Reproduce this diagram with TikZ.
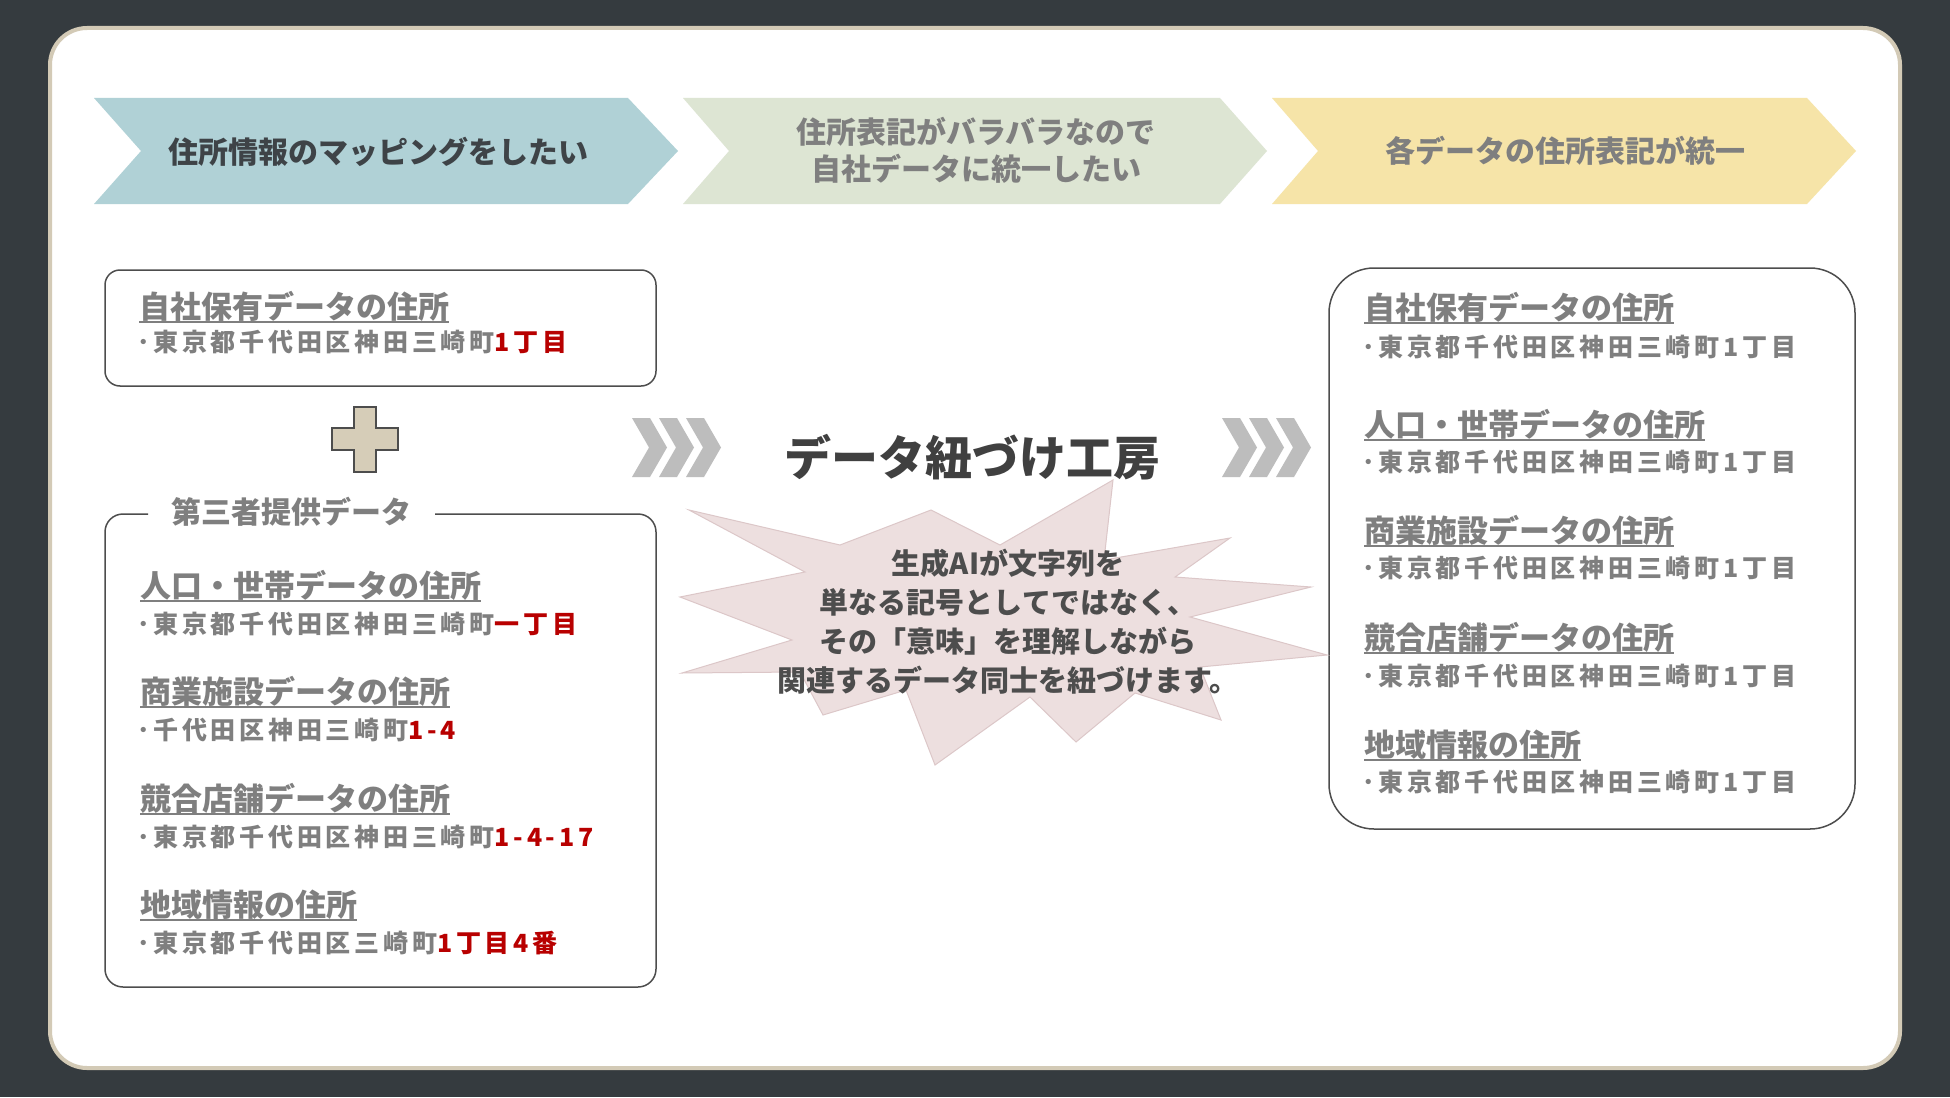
\documentclass[tikz,border=0pt]{standalone}
\usepackage{fontspec}
\setmainfont{Noto Sans CJK JP}
\definecolor{bgdark}{HTML}{353B3F}
\definecolor{cardline}{HTML}{D3CAB6}
\definecolor{cone}{HTML}{B0D1D6}
\definecolor{ctwo}{HTML}{DDE5D3}
\definecolor{cthree}{HTML}{F6E4A8}
\definecolor{txtdark}{HTML}{3E4347}
\definecolor{txtgray}{HTML}{7F7F7F}
\definecolor{addrred}{HTML}{B80000}
\definecolor{boxline}{HTML}{4D4D4D}
\definecolor{plusfill}{HTML}{D6CDB8}
\definecolor{chevgray}{HTML}{BDBDBD}
\definecolor{burstfill}{HTML}{EDDFDF}
\definecolor{burstline}{HTML}{DCC7C8}
\definecolor{titlecol}{HTML}{404040}
\definecolor{bursttext}{HTML}{4D4D4D}
\newcommand{\fsz}[2]{\fontsize{#1pt}{#2pt}\selectfont}
\begin{document}
\begin{tikzpicture}[x=1pt,y=-1pt,
  card/.style={fill=white,draw=cardline,line width=4pt,rounded corners=37pt},
  ctext/.style={font=\bfseries\fsz{30}{37},inner sep=0pt,align=center},
  box/.style={draw=boxline,line width=1.5pt},
  head/.style={font=\bfseries\fsz{31}{31},text=txtgray,inner sep=0pt,anchor=base west},
  addr/.style={font=\bfseries\fsz{25}{25}\addfontfeatures{LetterSpace=15},text=txtgray,inner sep=0pt,anchor=base west},
  ul/.style={draw=txtgray,line width=2pt},
  plusstyle/.style={fill=plusfill,draw=boxline,line width=1.5pt},
  chev/.style={fill=chevgray},
  burst/.style={fill=burstfill,draw=burstline,line width=1pt,line join=miter}]
\useasboundingbox (0,0) rectangle (1950,1097);
\fill[bgdark] (0,0) rectangle (1950,1097);
\draw[card] (50,28) rectangle (1900,1068);

% top chevrons
\fill[cone] (94,98) -- (628,98) -- (678,151) -- (628,204) -- (94,204) -- (141,151) -- cycle;
\fill[ctwo] (683,98) -- (1220,98) -- (1267,151) -- (1220,204) -- (683,204) -- (729,151) -- cycle;
\fill[cthree] (1272,98) -- (1807,98) -- (1856,151) -- (1807,204) -- (1272,204) -- (1318,151) -- cycle;
\node[ctext,text=txtdark] (t1) at (378,152) {住所情報のマッピングをしたい};
\node[ctext,text=txtgray] (t2) at (976,150) {住所表記がバラバラなので\\自社データに統一したい};
\node[ctext,text=txtgray] (t3) at (1565,151) {各データの住所表記が統一};

% left boxes
\draw[box,rounded corners=15pt] (105,270) rectangle (656,386);
\draw[box,rounded corners=18pt] (435,514) -- (656,514) -- (656,987) -- (105,987) -- (105,514) -- (148,514);
\node[font=\bfseries\fsz{30}{30},text=txtgray,inner sep=0pt] (third) at (291,512) {第三者提供データ};

% plus
\draw[plusstyle] (354,407) -- (376,407) -- (376,428) -- (398,428) -- (398,450) -- (376,450) -- (376,472) -- (354,472) -- (354,450) -- (332,450) -- (332,428) -- (354,428) -- cycle;

% right box
\draw[box,rounded corners=45pt] (1329,268) rectangle (1855,829);

% >>> arrows
\foreach \x in {632,659,686,1222,1249,1276}
  \fill[chev] (\x,418) -- (\x+18,418) -- (\x+35,447.5) -- (\x+18,477) -- (\x,477) -- (\x+17,447.5) -- cycle;

% title
\node[font=\bfseries\fsz{47}{47},text=titlecol,inner sep=0pt] (title) at (972,457) {データ紐づけ工房};

% starburst
\draw[burst] (689,510) -- (840,545) -- (931,510) -- (1000,545) -- (1113,480) -- (1104,560)
  -- (1230,538) -- (1175,577) -- (1311,587) -- (1190,617) -- (1327,655) -- (1200,667)
  -- (1221,720) -- (1135,693) -- (1076,742) -- (1030,697) -- (935,765) -- (906,690)
  -- (823,715) -- (800,672) -- (682,673) -- (792,640) -- (680,597) -- (805,572) -- cycle;
\node[font=\bfseries\fsz{29}{39},text=bursttext,align=center,inner sep=0pt] (bursttxt) at (1008,622)
  {生成AIが文字列を\\単なる記号としてではなく、\\その「意味」を理解しながら\\関連するデータ同士を紐づけます。};

% left box contents
\node[head] (a1) at (139,318) {自社保有データの住所};
\node[addr] (a1x) at (137,351) {･東京都千代田区神田三崎町{\color{addrred}1丁目}};
\node[head] (b1) at (140,597) {人口・世帯データの住所};
\node[addr] (b1x) at (137,633) {･東京都千代田区神田三崎町{\color{addrred}一丁目}};
\node[head] (b2) at (140,703) {商業施設データの住所};
\node[addr] (b2x) at (137,739) {･千代田区神田三崎町{\color{addrred}1-4}};
\node[head] (b3) at (140,810) {競合店舗データの住所};
\node[addr] (b3x) at (137,846) {･東京都千代田区神田三崎町{\color{addrred}1-4-17}};
\node[head] (b4) at (140,916) {地域情報の住所};
\node[addr] (b4x) at (137,952) {･東京都千代田区三崎町{\color{addrred}1丁目4番}};

% right box contents
\node[head] (c1) at (1364,319) {自社保有データの住所};
\node[addr] (c1x) at (1362,356) {･東京都千代田区神田三崎町1丁目};
\node[head] (c2) at (1364,436) {人口・世帯データの住所};
\node[addr] (c2x) at (1362,471) {･東京都千代田区神田三崎町1丁目};
\node[head] (c3) at (1364,542) {商業施設データの住所};
\node[addr] (c3x) at (1362,577) {･東京都千代田区神田三崎町1丁目};
\node[head] (c4) at (1364,649) {競合店舗データの住所};
\node[addr] (c4x) at (1362,685) {･東京都千代田区神田三崎町1丁目};
\node[head] (c5) at (1364,756) {地域情報の住所};
\node[addr] (c5x) at (1362,791) {･東京都千代田区神田三崎町1丁目};

\foreach \n in {a1,b1,b2,b3,b4,c1,c2,c3,c4,c5}
  \draw[ul] ([yshift=-4pt]\n.base west) -- ([yshift=-4pt]\n.base east);
\end{tikzpicture}
\end{document}
